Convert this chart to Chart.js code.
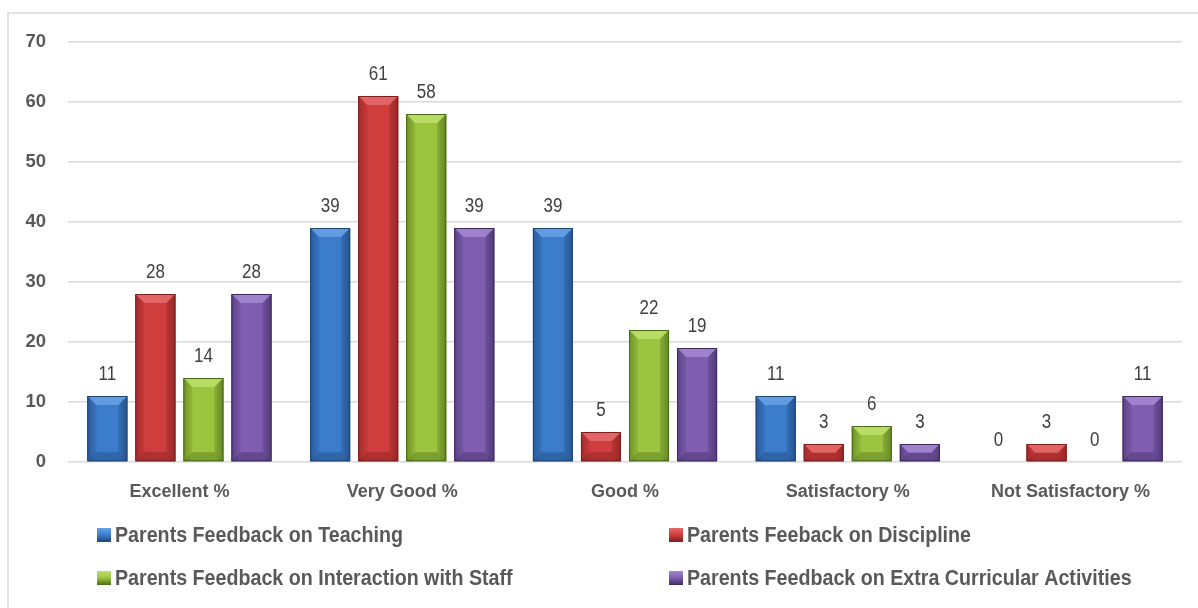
<!DOCTYPE html>
<html>
<head>
<meta charset="utf-8">
<script src="https://cdn.jsdelivr.net/npm/chart.js@4/dist/chart.umd.min.js"></script>
<style>
html,body{margin:0;padding:0;background:#fff;}
#wrap{position:relative;width:1198px;height:608px;}
</style>
</head>
<body>
<div id="wrap"><canvas id="c" width="1198" height="608"></canvas></div>
<script>
const categories = ["Excellent %", "Very Good %", "Good %", "Satisfactory %", "Not Satisfactory %"];
const seriesNames = ["Parents Feedback on Teaching", "Parents Feeback on Discipline", "Parents Feedback on Interaction with Staff", "Parents Feedback on Extra Curricular Activities"];
const teaching = [11, 39, 39, 11, 0];
const discipline = [28, 61, 5, 3, 3];
const interaction = [14, 58, 22, 6, 0];
const extraCurricular = [28, 39, 19, 3, 11];
const yTicks = [0, 10, 20, 30, 40, 50, 60, 70];

const FONT = '"Liberation Sans", Arial, sans-serif';
const palette = [
  {mid:'#3b7ccb', edge:'#2a5a9a', light:'#68a2e6', dark:'#1f4577'},
  {mid:'#cf3d3d', edge:'#a52c2c', light:'#e66b6b', dark:'#7a1e1e'},
  {mid:'#9cc53f', edge:'#6e9326', light:'#bde06a', dark:'#4c6a19'},
  {mid:'#7f5db0', edge:'#5d4288', light:'#a487d3', dark:'#3d2a5f'}
];
const seriesData = [teaching, discipline, interaction, extraCurricular];

const bevelPlugin = {
  id: 'bevel',
  afterDatasetsDraw(chart) {
    const ctx = chart.ctx;
    chart.data.datasets.forEach((ds, di) => {
      const meta = chart.getDatasetMeta(di);
      const p = palette[di];
      meta.data.forEach((bar) => {
        const {x, y, base, width} = bar.getProps(['x','y','base','width'], true);
        const l = x - width/2, r = x + width/2, t = Math.min(y, base), b = Math.max(y, base);
        const h = b - t;
        if (h < 0.5) return;
        ctx.save();
        const g = ctx.createLinearGradient(l, 0, r, 0);
        g.addColorStop(0, p.edge);
        g.addColorStop(0.2, p.mid);
        g.addColorStop(0.8, p.mid);
        g.addColorStop(1, p.edge);
        ctx.fillStyle = g;
        ctx.fillRect(l, t, width, h);
        const bv = Math.min(9, h/2, width/2);
        ctx.beginPath();
        ctx.moveTo(l, t); ctx.lineTo(r, t); ctx.lineTo(r - bv, t + bv); ctx.lineTo(l + bv, t + bv); ctx.closePath();
        ctx.fillStyle = p.light; ctx.globalAlpha = 0.85; ctx.fill();
        ctx.beginPath();
        ctx.moveTo(l, t); ctx.lineTo(l + bv, t + bv); ctx.lineTo(l + bv, b - bv); ctx.lineTo(l, b); ctx.closePath();
        ctx.fillStyle = p.edge; ctx.globalAlpha = 0.3; ctx.fill();
        ctx.beginPath();
        ctx.moveTo(r, t); ctx.lineTo(r - bv, t + bv); ctx.lineTo(r - bv, b - bv); ctx.lineTo(r, b); ctx.closePath();
        ctx.fillStyle = p.dark; ctx.globalAlpha = 0.3; ctx.fill();
        ctx.beginPath();
        ctx.moveTo(l, b); ctx.lineTo(l + bv, b - bv); ctx.lineTo(r - bv, b - bv); ctx.lineTo(r, b); ctx.closePath();
        ctx.fillStyle = p.dark; ctx.globalAlpha = 0.4; ctx.fill();
        ctx.globalAlpha = 1;
        ctx.strokeStyle = p.dark; ctx.lineWidth = 1;
        ctx.strokeRect(l + 0.5, t + 0.5, width - 1, h - 1);
        ctx.restore();
      });
    });
  }
};

const labelPlugin = {
  id: 'valueLabels',
  afterDatasetsDraw(chart) {
    const ctx = chart.ctx;
    ctx.save();
    ctx.fillStyle = '#404040';
    ctx.font = '19.5px ' + FONT;
    ctx.textAlign = 'center';
    ctx.textBaseline = 'alphabetic';
    const sx = 0.87;
    chart.data.datasets.forEach((ds, di) => {
      const meta = chart.getDatasetMeta(di);
      meta.data.forEach((bar, i) => {
        ctx.save();
        ctx.translate(bar.x, bar.y - 16);
        ctx.scale(sx, 1);
        ctx.fillText(String(ds.data[i]), 0, 0);
        ctx.restore();
      });
    });
    ctx.restore();
  }
};

const frameLegendPlugin = {
  id: 'frameLegend',
  beforeDraw(chart) {
    const ctx = chart.ctx;
    ctx.save();
    ctx.strokeStyle = '#d9d9d9';
    ctx.lineWidth = 1.5;
    ctx.strokeRect(8, 13, 1200, 610);
    ctx.restore();
  },
  afterDraw(chart) {
    const ctx = chart.ctx;
    const pos = [[97, 535], [669, 535], [97, 578], [669, 578]];
    ctx.save();
    ctx.font = 'bold 22px ' + FONT;
    ctx.textBaseline = 'middle';
    ctx.textAlign = 'left';
    const sx = 288 / ctx.measureText(seriesNames[0]).width;
    chart.data.datasets.forEach((ds, di) => {
      const [mx, my] = pos[di];
      const p = palette[di];
      const g = ctx.createLinearGradient(0, my - 7, 0, my + 7);
      g.addColorStop(0, p.light); g.addColorStop(0.5, p.mid); g.addColorStop(1, p.dark);
      ctx.fillStyle = g;
      ctx.fillRect(mx, my - 7, 14, 14);
      ctx.save();
      ctx.translate(mx + 18, my + 1);
      ctx.scale(sx, 1);
      ctx.fillStyle = '#595959';
      ctx.fillText(ds.label, 0, 0);
      ctx.restore();
    });
    ctx.restore();
  }
};

new Chart(document.getElementById('c'), {
  type: 'bar',
  data: {
    labels: categories,
    datasets: seriesData.map((d, i) => ({
      label: seriesNames[i],
      data: d,
      backgroundColor: palette[i].mid,
      borderWidth: 0,
      categoryPercentage: 0.8625,
      barPercentage: 0.833
    }))
  },
  options: {
    responsive: false,
    animation: false,
    events: [],
    layout: { padding: { left: 8, right: 16, top: 42, bottom: 106 } },
    plugins: { legend: { display: false }, tooltip: { enabled: false } },
    scales: {
      x: {
        grid: { display: false, drawTicks: false },
        border: { display: false },
        ticks: { color: '#595959', font: { family: FONT, size: 18, weight: 'bold' }, padding: 19, maxRotation: 0 },
        afterFit: s => { s.height = 40; }
      },
      y: {
        min: 0, max: 70,
        afterBuildTicks: s => { s.ticks = yTicks.map(v => ({ value: v })); },
        grid: { color: '#d9d9d9', lineWidth: 1.5, drawTicks: false },
        border: { display: false },
        ticks: { color: '#595959', font: { family: FONT, size: 18.5, weight: 'bold' }, padding: 22 },
        afterFit: s => { s.width = 60; }
      }
    }
  },
  plugins: [frameLegendPlugin, bevelPlugin, labelPlugin]
});
</script>
</body>
</html>
